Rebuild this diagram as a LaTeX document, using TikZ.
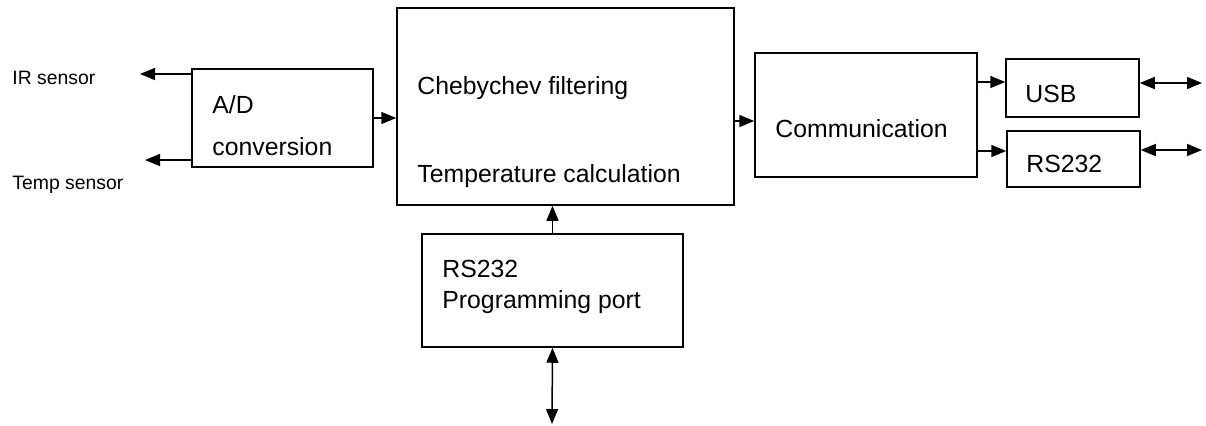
\documentclass[tikz,border=0pt]{standalone}
\usepackage{fontspec}
\setmainfont{Liberation Sans}
\usetikzlibrary{arrows.meta, fit}
\tikzstyle{block}=[draw=black, line width=.75pt, inner sep=0pt]
\tikzstyle{txt}=[inner sep=0pt, anchor=base west, font=\fontsize{12.4}{14}\selectfont]
\tikzstyle{lbl}=[inner sep=0pt, anchor=base west, font=\fontsize{9.7}{12}\selectfont]
\tikzstyle{arr}=[line width=.75pt, -{Triangle[length=7.5pt, width=6pt]}]
\tikzstyle{dbl}=[line width=.75pt, {Triangle[length=7.5pt, width=6pt]}-{Triangle[length=7.5pt, width=6pt]}]

\begin{document}
\begin{tikzpicture}[x=.5pt, y=-.5pt]
\useasboundingbox (0,0) rectangle (1206,425);

% blocks
\node (ad) [block, fit={(192,69) (373,167)}] {};
\node (main) [block, fit={(397,8) (734,205)}] {};
\node (comm) [block, fit={(755,53) (977,177)}] {};
\node (usb) [block, fit={(1006,59) (1139,117)}] {};
\node (rs) [block, fit={(1007,131) (1140,187)}] {};
\node (prog) [block, fit={(422,234) (683,347)}] {};

% texts
\node (adA) [txt] at (212,113) {A/D};
\node (adB) [txt] at (212,155) {conversion};
\node (filt) [txt] at (417,94) {Chebychev filtering};
\node (tcalc) [txt] at (417,182) {Temperature calculation};
\node (commtxt) [txt] at (775,137) {Communication};
\node (usbtxt) [txt] at (1025,102) {USB};
\node (rstxt) [txt] at (1026,172) {RS232};
\node (progA) [txt] at (442,277) {RS232};
\node (progB) [txt] at (442,308) {Programming port};
\node (ir) [lbl] at (12,84) {IR sensor};
\node (temp) [lbl] at (12,189) {Temp sensor};

% free ends
\coordinate (irend) at (140,74);
\coordinate (tempend) at (145,160);
\coordinate (usbend) at (1202,83);
\coordinate (rsend) at (1202,150);
\coordinate (portend) at (552,424);

% connectors
\draw[arr] (ad.west |- irend) -- (irend);
\draw[arr] (ad.west |- tempend) -- (tempend);
\draw[arr] (ad.east) -- (ad.east -| main.west);
\draw[arr] (main.east |- 0,121) -- (comm.west |- 0,121);
\draw[arr] (comm.east |- 0,82) -- (usb.west |- 0,82);
\draw[arr] (comm.east |- 0,151) -- (rs.west |- 0,151);
\foreach \b/\e in {usb/usbend, rs/rsend}
  \draw[dbl] (\b.east |- \e) -- (\e);
\draw[arr] (prog.north) -- (prog.north |- main.south);
\draw[dbl] (prog.south) -- (portend);
\end{tikzpicture}
\end{document}
